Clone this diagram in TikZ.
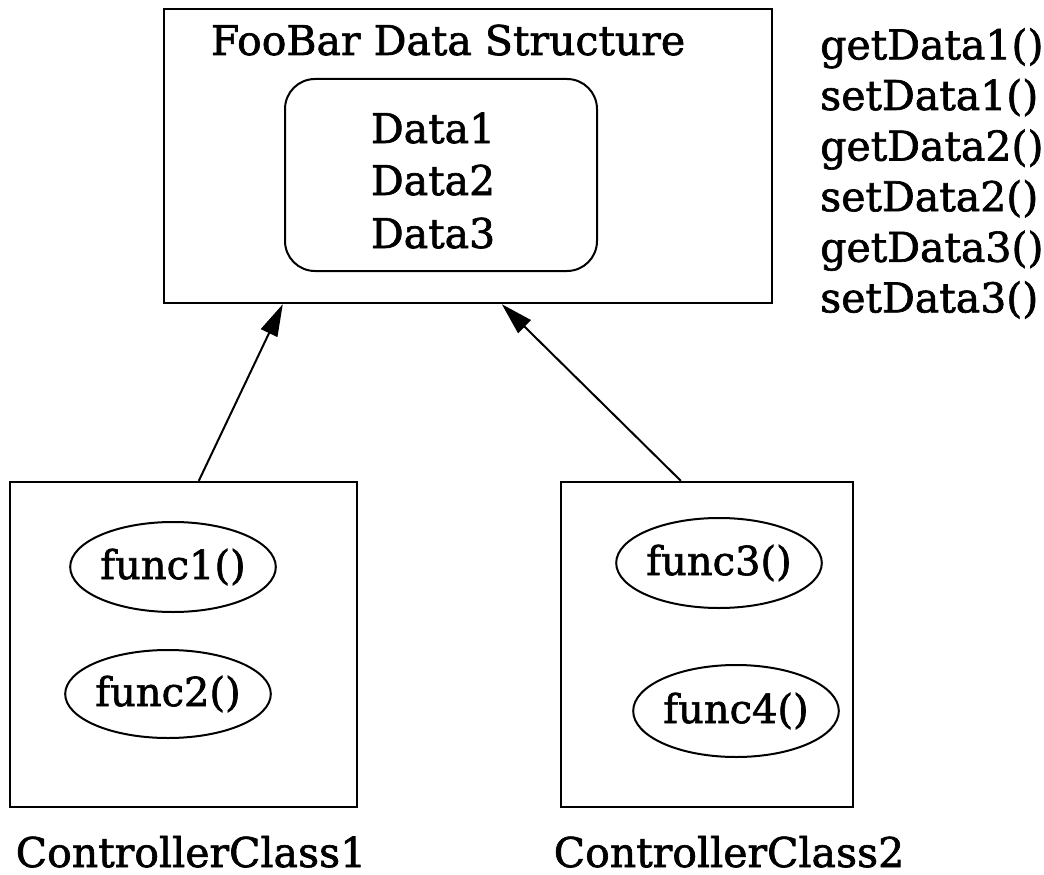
\documentclass[tikz,border=0pt]{standalone}
\usepackage{fontspec}
\setmainfont{DejaVu Serif}[FakeBold=1.6]
\usetikzlibrary{shapes.geometric,arrows.meta,calc}
\tikzset{
  box/.style={draw, line width=2.4pt, inner sep=0pt},
  store/.style={draw, line width=2pt, rounded corners=30pt, inner sep=0pt},
  func/.style={draw, ellipse, line width=2pt, inner sep=0pt, font=\fontsize{40}{48}\selectfont},
  label/.style={inner sep=0pt, anchor=base, font=\fontsize{41}{50}\selectfont},
  uses/.style={line width=2pt, -{Triangle[length=32pt,width=18pt]}}
}
\begin{document}
\begin{tikzpicture}[x=1pt,y=-1pt]
\useasboundingbox (0,0) rectangle (1044,875);

% data structure and its stored fields
\node[box, minimum width=608pt, minimum height=294pt] (fb) at (468,156) {};
\node[label] (title) at (448,55) {FooBar Data Structure};
\node[store, minimum width=312pt, minimum height=192pt] (store) at (441,175) {};
\node[label] (d1) at (433,143) {Data1};
\node[label] (d2) at (433,195) {Data2};
\node[label] (d3) at (433,248) {Data3};

% accessor list
\node[label, anchor=north west, align=left, font=\fontsize{41}{50.6}\selectfont] (api) at (820,28)
  {getData1()\\setData1()\\getData2()\\setData2()\\getData3()\\setData3()};

% controller classes
\node[box, minimum width=347pt, minimum height=325pt] (cc1) at (183.5,644.5) {};
\node[box, minimum width=292pt, minimum height=325pt] (cc2) at (707,644.5) {};
\node[func, minimum width=196pt, minimum height=90pt] (f1) at (173,567) {func1()};
\node[func, minimum width=197pt, minimum height=88pt] (f2) at (168,694) {func2()};
\node[func, minimum width=198pt, minimum height=90pt] (f3) at (719,563) {func3()};
\node[func, minimum width=198pt, minimum height=92pt] (f4) at (736,711) {func4()};
\node[label] (n1) at (191,867) {ControllerClass1};
\node[label] (n2) at (729,867) {ControllerClass2};

% dependencies
\draw[uses] ($(cc1.north west)+(190,0)$) -- ($(fb.south west)+(120,0)$);
\draw[uses] ($(cc2.north west)+(121,0)$) -- ($(fb.south west)+(339,0)$);
\end{tikzpicture}
\end{document}
